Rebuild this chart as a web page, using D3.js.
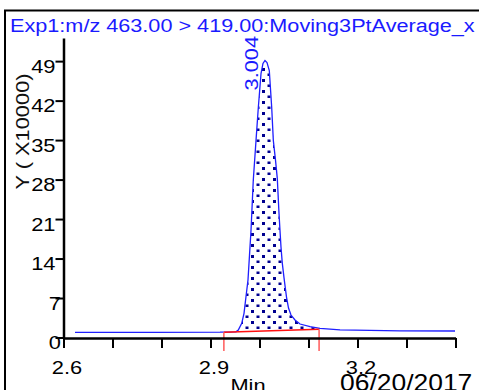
<!DOCTYPE html>
<html>
<head>
<meta charset="utf-8">
<script src="https://cdn.jsdelivr.net/npm/d3@7"></script>
<style>
  html, body { margin: 0; padding: 0; background: #fff; overflow: hidden; }
  svg { display: block; }
  text { font-family: "Liberation Sans", Arial, sans-serif; }
</style>
</head>
<body>
<svg id="chart" width="479" height="390"></svg>
<script>
// ---- data ----
const title = "Exp1:m/z 463.00 > 419.00:Moving3PtAverage_x";
const yLabel = "Y ( X10000)";
const xLabel = "Min";
const dateLabel = "06/20/2017";
const peakLabel = "3.004";
const peakLabelTime = 3.0112;
const peakLabelValue = 49.11;

const xTicks = [2.6, 2.7, 2.8, 2.9, 3.0, 3.1, 3.2, 3.3, 3.4];
const xTickLabels = ["2.6", "2.9", "3.2"];
const yTicks = [0, 7, 14, 21, 28, 35, 42, 49];
const yTickLabels = ["0", "7", "14", "21", "28", "35", "42", "49"];

// retention time (min) and intensity (x10000)
const times = [2.6235, 2.7765, 2.9194, 2.9520, 2.9567, 2.9637, 2.9684, 2.9724, 2.9765, 2.9796,
  2.9827, 2.9873, 2.9929, 2.9976, 3.0031, 3.0071, 3.0112, 3.0153, 3.0200, 3.0249,
  3.0282, 3.0327, 3.0363, 3.0398, 3.0418, 3.0439, 3.0465, 3.0506, 3.0551, 3.0592,
  3.0643, 3.0724, 3.0827, 3.1031, 3.1235, 3.1643, 3.2867, 3.3990];
const intensity = [0.92, 0.92, 0.94, 1.01, 1.33, 2.51, 4.28, 7.22, 10.17, 14.6,
  19.02, 27.87, 34.95, 40.79, 46.8, 48.58, 49.11, 48.75, 47.34, 40.79,
  34.95, 31.41, 28.22, 22.03, 19.02, 16.01, 13.18, 10.17, 7.17, 5.22,
  3.98, 3.10, 2.39, 1.91, 1.63, 1.36, 1.19, 1.15];

// integration baseline (start / end)
const integTimes = [2.9273, 3.1216];
const integValues = [0.92, 1.45];
const integMarkerBottom = -2.4;

// ---- layout ----
const svg = d3.select("#chart");
const SX = 1.15;
const FONT = 19;

const x = d3.scaleLinear().domain([2.6, 3.4]).range([63.5, 455.5]);
const y = d3.scaleLinear().domain([0, 53.1]).range([337.5, 38]);

function addText(sel, tx, ty, str, o) {
  o = o || {};
  return sel.append("text")
    .attr("transform", `translate(${tx},${ty}) rotate(${o.rot || 0}) scale(${o.sx || SX},1)`)
    .attr("text-anchor", o.anchor || "start")
    .attr("font-size", o.size || FONT)
    .attr("fill", o.fill || "#000")
    .text(str);
}

// frame
svg.append("line").attr("x1", 4).attr("x2", 479).attr("y1", 10.5).attr("y2", 10.5)
  .attr("stroke", "#000").attr("stroke-width", 2);
svg.append("line").attr("x1", 5).attr("x2", 5).attr("y1", 10).attr("y2", 390)
  .attr("stroke", "#000").attr("stroke-width", 2);

// title
addText(svg, 10, 32, title, { fill: "#1a1aff", sx: 1.14 });

// pattern
const defs = svg.append("defs");
const pat = defs.append("pattern").attr("id", "dots")
  .attr("patternUnits", "userSpaceOnUse")
  .attr("x", 9).attr("y", 2).attr("width", 11).attr("height", 11);
pat.append("rect").attr("x", 0).attr("y", 0).attr("width", 3).attr("height", 3).attr("fill", "#00008f");
pat.append("rect").attr("x", 5.5).attr("y", 5.5).attr("width", 3).attr("height", 2.5).attr("fill", "#00008f");

// peak fill between trace and integration baseline
const baseAt = t => integValues[0] + (integValues[1] - integValues[0]) * (t - integTimes[0]) / (integTimes[1] - integTimes[0]);
const traceAt = t => {
  for (let i = 0; i < times.length - 1; i++) {
    if (t >= times[i] && t <= times[i + 1]) {
      const f = (t - times[i]) / (times[i + 1] - times[i]);
      return intensity[i] + f * (intensity[i + 1] - intensity[i]);
    }
  }
  return intensity[intensity.length - 1];
};
const fillTimes = [integTimes[0]].concat(times.filter(t => t > integTimes[0] && t < integTimes[1])).concat([integTimes[1]]);
const fillData = fillTimes.map(t => ({ t, b: baseAt(t), v: Math.max(traceAt(t), baseAt(t)) }));
svg.append("path").datum(fillData)
  .attr("d", d3.area().x(d => x(d.t)).y0(d => y(d.b)).y1(d => y(d.v)))
  .attr("fill", "url(#dots)");

// trace
const traceData = times.map((t, i) => ({ t, v: intensity[i] }));
svg.append("path").datum(traceData)
  .attr("d", d3.line().x(d => x(d.t)).y(d => y(d.v)))
  .attr("fill", "none").attr("stroke", "#1f1fff").attr("stroke-width", 1.3);

// integration baseline + markers
svg.append("line")
  .attr("x1", x(integTimes[0])).attr("y1", y(integValues[0]))
  .attr("x2", x(integTimes[1])).attr("y2", y(integValues[1]))
  .attr("stroke", "#ff1010").attr("stroke-width", 1.5);
integTimes.forEach((t, i) => {
  svg.append("line")
    .attr("x1", x(t)).attr("x2", x(t))
    .attr("y1", y(integValues[i])).attr("y2", y(integMarkerBottom))
    .attr("stroke", "#ff5a5a").attr("stroke-width", 1.5);
});

// axes
const xAxis = d3.axisBottom(x).tickValues(xTicks).tickSize(10).tickSizeOuter(0).tickFormat("");
const gx = svg.append("g").attr("transform", `translate(0,${y(0) + 0.5})`).call(xAxis);
gx.select(".domain").attr("stroke", "#000").attr("stroke-width", 2.5);
gx.selectAll(".tick line").attr("stroke", "#000").attr("stroke-width", 2);

const yAxis = d3.axisLeft(y).tickValues(yTicks).tickSize(8).tickSizeOuter(0).tickFormat("");
const gy = svg.append("g").attr("transform", `translate(${x(2.6)},0)`).call(yAxis);
gy.select(".domain").attr("stroke", "#000").attr("stroke-width", 2.5);
gy.selectAll(".tick line").attr("stroke", "#000").attr("stroke-width", 2);

// tick labels
xTickLabels.forEach(s => addText(svg, x(+s) + 3.5, 374, s, { anchor: "middle" }));
yTickLabels.forEach((s, i) => addText(svg, s.length === 1 ? 61 : 55.5, y(yTicks[i]) + 11.5, s, { anchor: "end" }));

// axis labels
addText(svg, 29, 131.5, yLabel, { rot: -90, anchor: "middle", fill: "#111" });
addText(svg, 248, 391.5, xLabel, { anchor: "middle" });
addText(svg, 340, 391, dateLabel, { size: 23 });

// peak label
addText(svg, x(peakLabelTime) - 7, y(peakLabelValue) + 30, peakLabel, { rot: -90, fill: "#1a1aff" });
</script>
</body>
</html>
